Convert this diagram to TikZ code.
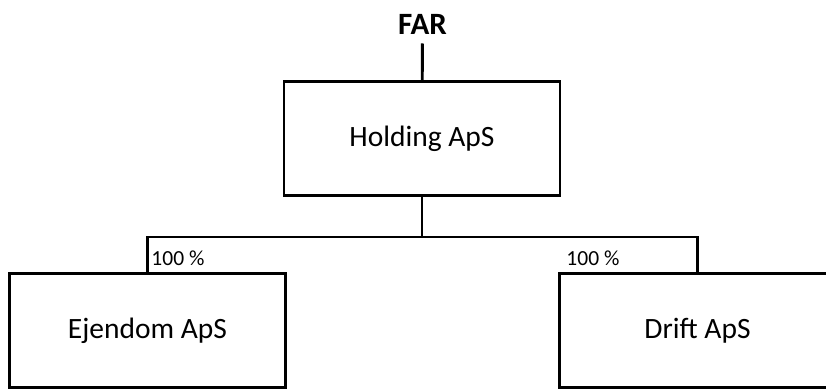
\documentclass[tikz,border=0pt]{standalone}
\usepackage{fontspec}
\setmainfont{Carlito}
\usetikzlibrary{positioning}

\begin{document}
\begin{tikzpicture}[x=1pt,y=-1pt,line width=2.9pt,line join=miter,node distance=550pt,
  company/.style={draw,minimum width=276pt,minimum height=114pt,font=\fontsize{29.5}{34}\selectfont},
  pct/.style={font=\fontsize{21.5}{24}\selectfont,inner sep=0pt,anchor=west}]
  \useasboundingbox (0,0) rectangle (826,390);

  \node [font=\bfseries\fontsize{31}{35}\selectfont,inner sep=8pt] (far) at (422.5,24) {FAR};
  \node [company] (holding) at (422,138.5) {Holding ApS};
  \node [company] (ejendom) at (147.5,330.5) {Ejendom ApS};
  \node [company,right of=ejendom] (drift) {Drift ApS};

  \coordinate (bus) at (422,237);

  \path[-] (far) edge (holding);
  \draw (holding.south) -- (bus);
  \draw (ejendom.north) |- (bus) -| (drift.north);

  \node [pct] (pctejendom) at (150,258) {100 \%};
  \node [pct] (pctdrift) at (565,258) {100 \%};
\end{tikzpicture}
\end{document}
